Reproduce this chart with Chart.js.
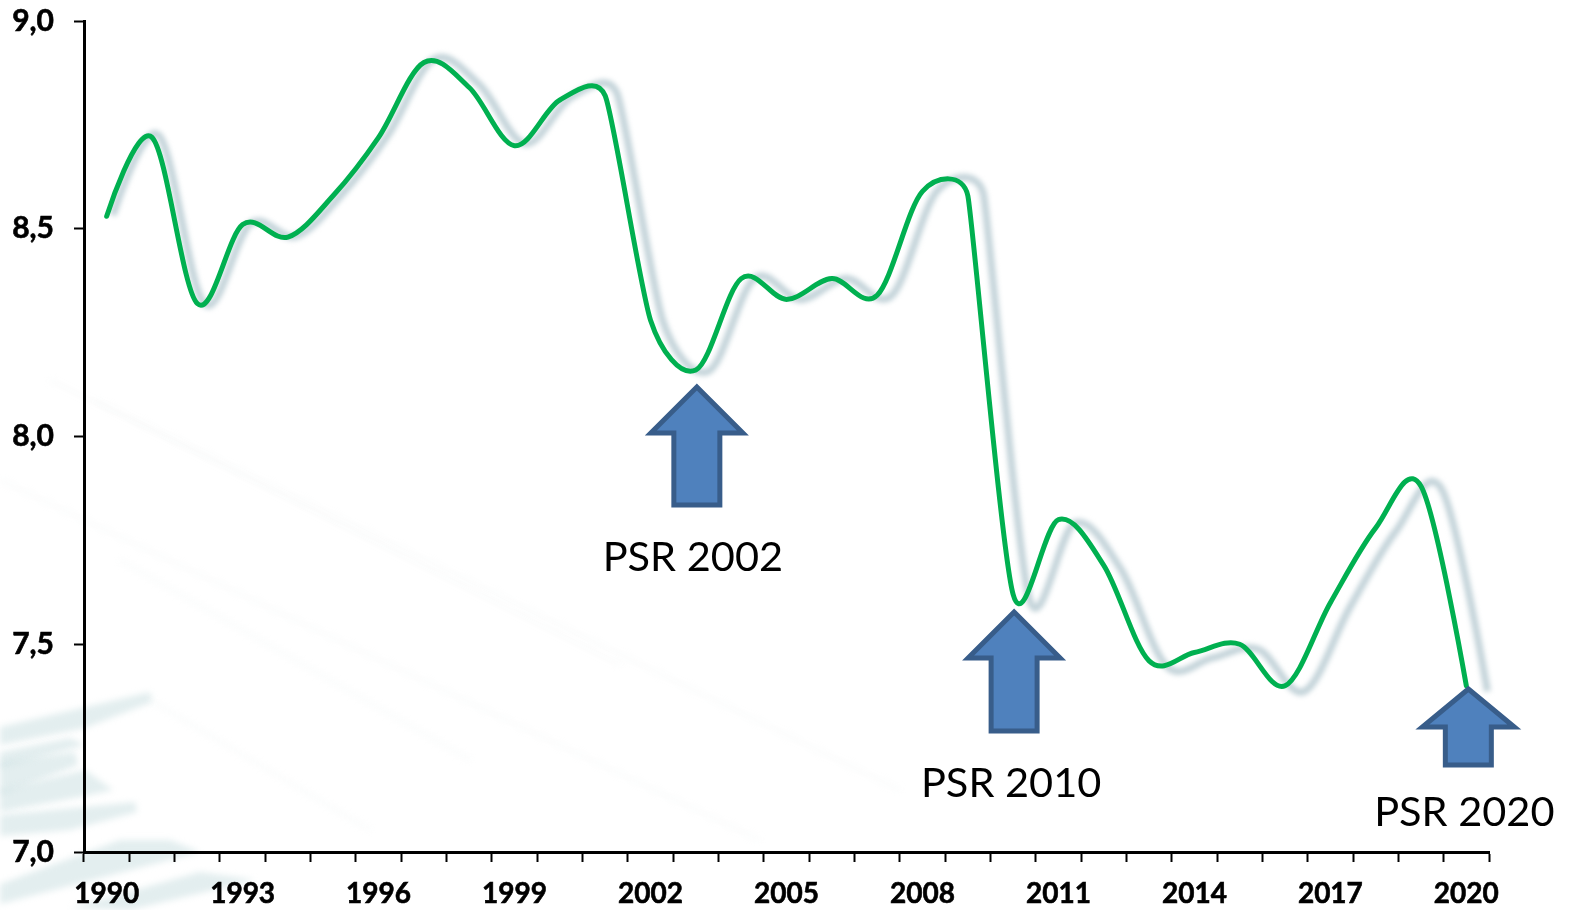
<!DOCTYPE html>
<html>
<head>
<meta charset="utf-8">
<style>
  html, body { margin: 0; padding: 0; background: #fff; }
  #wrap { width: 1571px; height: 910px; }
</style>
<script src="https://cdn.jsdelivr.net/npm/chart.js@4"></script>
</head>
<body>
<div id="wrap"><canvas id="myChart"></canvas></div>
<script>
const years = ["1990","1991","1992","1993","1994","1995","1996","1997","1998","1999","2000",
  "2001","2002","2003","2004","2005","2006","2007","2008","2009","2010",
  "2011","2012","2013","2014","2015","2016","2017","2018","2019","2020"];
const values = [8.53,8.72,8.32,8.51,8.48,8.58,8.72,8.9,8.84,8.7,8.81,
  8.82,8.28,8.16,8.38,8.33,8.38,8.34,8.59,8.58,7.62,
  7.8,7.69,7.46,7.48,7.5,7.4,7.6,7.78,7.88,7.4];
const yTicks = { 7: "7,0", 7.5: "7,5", 8: "8,0", 8.5: "8,5", 9: "9,0" };
const arrowYears = ["2003", "2010", "2020"];
const arrowLabels = ["PSR 2002", "PSR 2010", "PSR 2020"];

// faint logo streaks in the lower left corner of the slide
const streaks = [
  [[0,727],[150,692],[152,702],[85,728],[0,745]],
  [[0,752],[70,738],[85,745],[0,768]],
  [[0,762],[75,752],[78,765],[0,795]],
  [[0,790],[85,770],[113,790],[85,796],[0,812]],
  [[0,815],[135,802],[137,812],[70,830],[0,836]],
  [[0,884],[120,840],[170,840],[200,852],[0,904]],
  [[70,908],[200,872],[255,880],[130,910]]
];
// barely visible diagonal lines across the plot
const faintLines = [
  [[50,380],[620,665]],
  [[95,400],[900,790]],
  [[0,480],[760,840]],
  [[120,560],[470,760]],
  [[150,700],[370,830]]
];

const backdrop = {
  id: "backdrop",
  beforeDraw(chart) {
    const ctx = chart.ctx;
    ctx.save();
    ctx.filter = "blur(3px)";
    ctx.fillStyle = "rgba(200,222,224,0.5)";
    streaks.forEach((s) => {
      ctx.beginPath();
      s.forEach((p, i) => (i ? ctx.lineTo(p[0], p[1]) : ctx.moveTo(p[0], p[1])));
      ctx.closePath();
      ctx.fill();
    });
    ctx.strokeStyle = "rgba(225,232,232,0.12)";
    ctx.lineWidth = 5;
    faintLines.forEach((l) => {
      ctx.beginPath();
      ctx.moveTo(l[0][0], l[0][1]);
      ctx.lineTo(l[1][0], l[1][1]);
      ctx.stroke();
    });
    ctx.restore();
  },
};

// spreadsheet style smoothing: handle is a sixth of the chord, at most half of the shorter segment
function smoothLine(chart) {
  const line = chart.getDatasetMeta(0).dataset;
  const pts = line.points;
  pts.forEach((p, i) => {
    const a = pts[Math.max(i - 1, 0)];
    const b = pts[Math.min(i + 1, pts.length - 1)];
    const d01 = Math.hypot(p.x - a.x, p.y - a.y);
    const d12 = Math.hypot(b.x - p.x, b.y - p.y);
    const d02 = Math.hypot(b.x - a.x, b.y - a.y);
    let f = 1 / 6;
    if (d02 / 6 >= d01 / 2 || d02 / 6 >= d12 / 2) {
      f = Math.min(d01, d12) / (2 * d02);
    }
    const dx = (b.x - a.x) * f;
    const dy = (b.y - a.y) * f;
    p.cp1x = p.x - dx;
    p.cp1y = p.y - dy;
    p.cp2x = p.x + dx;
    p.cp2y = p.y + dy;
  });
  line._pointsUpdated = true;
  return line;
}

// soft shadow of the line, it drifts further right along the x axis
const lineShadow = {
  id: "lineShadow",
  beforeDatasetsDraw(chart) {
    const ctx = chart.ctx;
    const line = smoothLine(chart);
    ctx.save();
    ctx.filter = "blur(2.5px)";
    ctx.strokeStyle = "#c3d3d9";
    ctx.lineWidth = 7;
    ctx.lineJoin = "round";
    ctx.transform(1.011, 0, 0, 1.014, 5, -4);
    ctx.beginPath();
    line.path(ctx);
    ctx.stroke();
    ctx.restore();
  },
};

const psrArrows = {
  id: "psrArrows",
  afterDatasetsDraw(chart) {
    const ctx = chart.ctx;
    const x = chart.scales.x;
    const sizes = [
      { dx: 1, tip: 387, wing: 433, base: 505, text: 558, tx: -4 },
      { dx: 1, tip: 612, wing: 658, base: 731, text: 784, tx: -3 },
      { dx: 2, tip: 689, wing: 727, base: 765, text: 813, tx: -4 },
    ];
    arrowYears.forEach((year, i) => {
      const s = sizes[i];
      const cx = x.getPixelForValue(years.indexOf(year)) + s.dx;
      ctx.save();
      ctx.beginPath();
      ctx.moveTo(cx, s.tip);
      ctx.lineTo(cx + 46, s.wing);
      ctx.lineTo(cx + 23, s.wing);
      ctx.lineTo(cx + 23, s.base);
      ctx.lineTo(cx - 23, s.base);
      ctx.lineTo(cx - 23, s.wing);
      ctx.lineTo(cx - 46, s.wing);
      ctx.closePath();
      ctx.fillStyle = "#4f81bd";
      ctx.strokeStyle = "#385d8a";
      ctx.lineWidth = 5;
      ctx.lineJoin = "miter";
      ctx.fill();
      ctx.stroke();
      ctx.fillStyle = "#000";
      ctx.font = "41.5px Lato";
      ctx.textAlign = "center";
      ctx.textBaseline = "middle";
      ctx.fillText(arrowLabels[i], cx + s.tx, s.text);
      ctx.restore();
    });
  },
};

new Chart(document.getElementById("myChart"), {
  type: "line",
  data: {
    labels: years,
    datasets: [
      {
        data: values,
        borderColor: "#00b050",
        borderWidth: 5,
        borderCapStyle: "round",
        tension: 0.4,
        pointRadius: 0,
        fill: false,
        clip: false,
      },
    ],
  },
  options: {
    responsive: true,
    maintainAspectRatio: false,
    animation: false,
    layout: { padding: { top: 21, right: 82, bottom: 0, left: 0 } },
    plugins: {
      legend: { display: false },
      tooltip: { enabled: false },
    },
    scales: {
      x: {
        offset: true,
        afterFit(scale) { scale.height = 58; },
        grid: {
          offset: true,
          drawOnChartArea: false,
          tickLength: 10,
          tickWidth: 2,
          tickColor: "#000",
        },
        border: { color: "#000", width: 3 },
        ticks: {
          autoSkip: false,
          maxRotation: 0,
          padding: 15,
          color: "#000",
          textStrokeColor: "#000",
          textStrokeWidth: 0.6,
          font: { family: "Lato", size: 28, weight: "bold" },
          callback(value, index) {
            return index % 3 === 0 ? years[index] : "";
          },
        },
      },
      y: {
        min: 7,
        max: 9,
        afterFit(scale) {
          scale.width = 84;
          scale.paddingTop = 0;
          scale.paddingBottom = 0;
        },
        grid: {
          drawOnChartArea: false,
          tickLength: 10,
          tickWidth: 2,
          tickColor: "#000",
        },
        border: { color: "#000", width: 3 },
        ticks: {
          stepSize: 0.5,
          padding: 20,
          color: "#000",
          textStrokeColor: "#000",
          textStrokeWidth: 0.6,
          font: { family: "Lato", size: 30, weight: "bold" },
          callback(value) { return yTicks[value]; },
        },
      },
    },
  },
  plugins: [backdrop, lineShadow, psrArrows],
});
</script>
</body>
</html>
